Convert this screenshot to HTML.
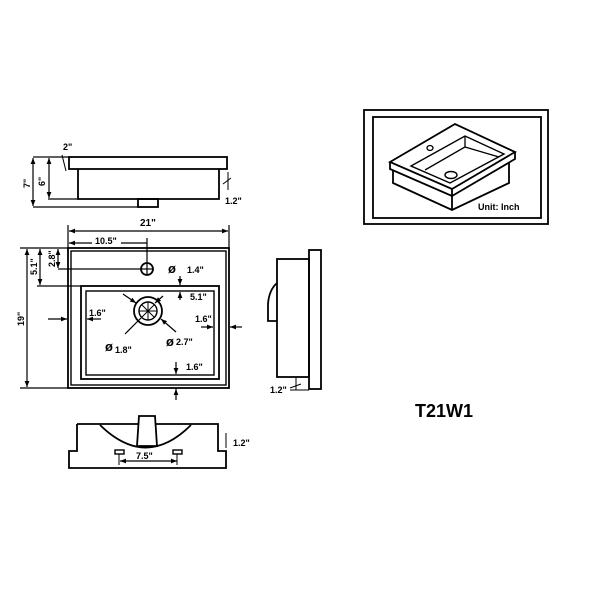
<!DOCTYPE html>
<html><head><meta charset="utf-8"><style>
html,body{margin:0;padding:0;background:#fff;}
svg{display:block;}
text{font-family:"Liberation Sans",sans-serif;font-weight:bold;fill:#000;}
</style></head><body>
<svg width="600" height="600" viewBox="0 0 600 600" xmlns="http://www.w3.org/2000/svg">
<defs>
<marker id="a" viewBox="0 0 10 10" refX="10" refY="5" markerWidth="5" markerHeight="5" orient="auto-start-reverse"><path d="M0,1 L10,5 L0,9 z" fill="#000"/></marker>
</defs>
<g fill="none" stroke="#000" stroke-width="1.8">
<!-- side view top -->
<rect x="69" y="157" width="158" height="12"/>
<polyline points="78,169 78,199 219,199 219,169"/>
<rect x="138" y="199" width="20" height="8"/>
<line x1="48" y1="157" x2="69" y2="157" stroke-width="1.2"/>
<line x1="48" y1="199" x2="78" y2="199" stroke-width="1.2"/>
<line x1="33" y1="207" x2="138" y2="207" stroke-width="1.2"/>
<line x1="33" y1="157" x2="48" y2="157" stroke-width="1.2"/>
<line x1="33" y1="158" x2="33" y2="206" stroke-width="1.2" marker-start="url(#a)" marker-end="url(#a)"/>
<line x1="49" y1="158" x2="49" y2="198" stroke-width="1.2" marker-start="url(#a)" marker-end="url(#a)"/>
<line x1="62" y1="155" x2="66" y2="171" stroke-width="1"/>
<line x1="64" y1="157" x2="72" y2="157" stroke-width="1"/>
<line x1="228" y1="172" x2="228" y2="190" stroke-width="1"/>
<line x1="223" y1="184" x2="231" y2="178" stroke-width="1"/>

<!-- top view -->
<rect x="68" y="248" width="161" height="140"/>
<rect x="71" y="251" width="155" height="134" stroke-width="1.4"/>
<rect x="81" y="286" width="138" height="93"/>
<rect x="86" y="291" width="128" height="84" stroke-width="1.4"/>
<circle cx="147" cy="269" r="6"/>
<line x1="141" y1="269" x2="153" y2="269" stroke-width="1.2"/>
<line x1="147" y1="263" x2="147" y2="275" stroke-width="1.2"/>
<circle cx="148" cy="311" r="14"/>
<circle cx="148" cy="311" r="9" stroke-width="1.4"/>
<line x1="139" y1="311" x2="157" y2="311" stroke-width="1"/>
<line x1="148" y1="302" x2="148" y2="320" stroke-width="1"/>
<line x1="142" y1="305" x2="154" y2="317" stroke-width="1"/>
<line x1="154" y1="305" x2="142" y2="317" stroke-width="1"/>
<line x1="123" y1="294" x2="136" y2="303" stroke-width="1.2" marker-end="url(#a)"/>
<line x1="125" y1="334" x2="141" y2="318" stroke-width="1.2"/>
<line x1="163" y1="296" x2="155" y2="303" stroke-width="1.2" marker-end="url(#a)"/>
<line x1="176" y1="332" x2="161" y2="319" stroke-width="1.2" marker-end="url(#a)"/>
<!-- dims -->
<line x1="68" y1="225" x2="68" y2="248" stroke-width="1.2"/>
<line x1="229" y1="225" x2="229" y2="248" stroke-width="1.2"/>
<line x1="69" y1="231" x2="228" y2="231" stroke-width="1.2" marker-start="url(#a)" marker-end="url(#a)"/>
<line x1="69" y1="243" x2="92" y2="243" stroke-width="1.2" marker-start="url(#a)"/>
<line x1="121" y1="243" x2="147" y2="243" stroke-width="1.2"/>
<line x1="147" y1="238" x2="147" y2="263" stroke-width="1.2"/>
<line x1="20" y1="248" x2="68" y2="248" stroke-width="1.2"/>
<line x1="20" y1="388" x2="68" y2="388" stroke-width="1.2"/>
<line x1="37" y1="286" x2="81" y2="286" stroke-width="1.2"/>
<line x1="58" y1="269" x2="141" y2="269" stroke-width="1.2"/>
<line x1="27" y1="249" x2="27" y2="387" stroke-width="1.2" marker-start="url(#a)" marker-end="url(#a)"/>
<line x1="40" y1="249" x2="40" y2="285" stroke-width="1.2" marker-start="url(#a)" marker-end="url(#a)"/>
<line x1="58" y1="249" x2="58" y2="268" stroke-width="1.2" marker-start="url(#a)" marker-end="url(#a)"/>
<line x1="48" y1="319" x2="67" y2="319" stroke-width="1.2" marker-end="url(#a)"/>
<line x1="101" y1="319" x2="87" y2="319" stroke-width="1.2" marker-end="url(#a)"/>
<line x1="201" y1="327" x2="213" y2="327" stroke-width="1.2" marker-end="url(#a)"/>
<line x1="242" y1="327" x2="230" y2="327" stroke-width="1.2" marker-end="url(#a)"/>
<line x1="180" y1="276" x2="180" y2="285" stroke-width="1.2" marker-end="url(#a)"/>
<line x1="180" y1="300" x2="180" y2="292" stroke-width="1.2" marker-end="url(#a)"/>
<line x1="176" y1="362" x2="176" y2="374" stroke-width="1.2" marker-end="url(#a)"/>
<line x1="176" y1="400" x2="176" y2="389" stroke-width="1.2" marker-end="url(#a)"/>

<!-- right side view -->
<rect x="309" y="250" width="12" height="139"/>
<rect x="277" y="259" width="32" height="118"/>
<path d="M277,283 Q269,290 268,304 L268,321 L277,321"/>
<line x1="296" y1="378" x2="296" y2="390" stroke-width="1"/>
<line x1="290" y1="388" x2="301" y2="384" stroke-width="1"/>
<line x1="290" y1="390" x2="309" y2="390" stroke-width="1"/>

<!-- bottom view -->
<polyline points="77,424 218,424 218,451 226,451 226,468 69,468 69,451 77,451 77,424"/>
<path d="M100,425 Q146,470 191,425"/>
<path d="M139,416 L155,416 L157,446 L137,446 Z" fill="#fff"/>
<rect x="115" y="450" width="9" height="4" stroke-width="1.4"/>
<rect x="173" y="450" width="9" height="4" stroke-width="1.4"/>
<line x1="120" y1="461" x2="177" y2="461" stroke-width="1.2" marker-start="url(#a)" marker-end="url(#a)"/>
<line x1="119" y1="454" x2="119" y2="465" stroke-width="1"/>
<line x1="177" y1="454" x2="177" y2="465" stroke-width="1"/>
<line x1="226" y1="433" x2="226" y2="448" stroke-width="1"/>

<!-- iso box -->
<rect x="364" y="110" width="184" height="114"/>
<rect x="373" y="117" width="168" height="101"/>
<polygon points="390,162 455,124 515,152 452,189" fill="#fff"/>
<polyline points="390,162 390,169 452,196 515,159 515,152"/>
<line x1="452" y1="189" x2="452" y2="196"/>
<polyline points="393,170 393,183 452,210 509,183 509,162"/>
<line x1="452" y1="196" x2="452" y2="210"/>
<polygon points="411,166 465,136 504,154 450,183" stroke-width="1.4"/>
<polyline points="465,136 465,147 425,170" stroke-width="1.3"/>
<line x1="465" y1="147" x2="499" y2="157" stroke-width="1.3"/>
<ellipse cx="430" cy="148" rx="3" ry="2.5" stroke-width="1.3"/>
<ellipse cx="451" cy="175" rx="6" ry="3.5" stroke-width="1.4"/>
</g>
<g font-size="9">
<text x="63" y="150">2"</text>
<text x="140" y="226" font-size="10">21"</text>
<text x="95" y="244">10.5"</text>
<text x="225" y="204">1.2"</text>
<text x="187" y="273">1.4"</text>
<text x="190" y="300">5.1"</text>
<text x="89" y="316">1.6"</text>
<text x="195" y="322">1.6"</text>
<text x="186" y="370">1.6"</text>
<text x="115" y="353">1.8"</text>
<text x="176" y="345">2.7"</text>
<text x="270" y="393">1.2"</text>
<text x="233" y="446">1.2"</text>
<text x="136" y="459">7.5"</text>
<text x="478" y="210">Unit: Inch</text>
</g>
<g font-size="13" font-weight="normal"><text x="168" y="273">ø</text><text x="105" y="351">ø</text><text x="166" y="346">ø</text></g>
<g font-size="9">
<text transform="translate(33,184) rotate(-90)" x="-4" y="-3">7"</text>
<text transform="translate(48,182) rotate(-90)" x="-4" y="-3">6"</text>
<text transform="translate(27,320) rotate(-90)" x="-6" y="-3">19"</text>
<text transform="translate(40,268) rotate(-90)" x="-7" y="-3">5.1"</text>
<text transform="translate(58,260) rotate(-90)" x="-7" y="-3">2.8"</text>
</g>
<text x="415" y="417" font-size="18">T21W1</text>
</svg>
</body></html>
